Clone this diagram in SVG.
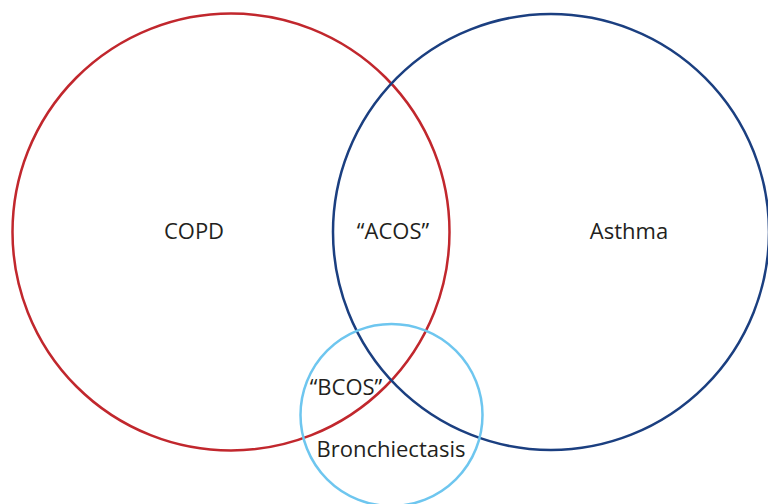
<svg xmlns="http://www.w3.org/2000/svg" width="768" height="504" viewBox="0 0 768 504">
<style>
.c{fill:none;stroke-width:2.5}
.t{font-family:"Open Sans","DejaVu Sans",sans-serif;font-size:22px;fill:#231f20;text-anchor:middle}
</style>
<rect width="768" height="504" fill="#fff"/>
<g id="copd"><circle class="c" cx="231" cy="232" r="218.5" stroke="#c1272d"/><text class="t" x="194" y="239">COPD</text></g>
<g id="asthma"><circle class="c" cx="551" cy="232" r="218" stroke="#1b3f80"/><text class="t" x="629" y="239">Asthma</text></g>
<g id="bronchiectasis"><circle class="c" cx="391.5" cy="415" r="91" stroke="#6ec6ef"/><text class="t" x="391" y="457">Bronchiectasis</text></g>
<g id="acos"><text class="t" x="393" y="239">“ACOS”</text></g>
<g id="bcos"><text class="t" x="346" y="395">“BCOS”</text></g>
<g id="connectors"/>
</svg>
